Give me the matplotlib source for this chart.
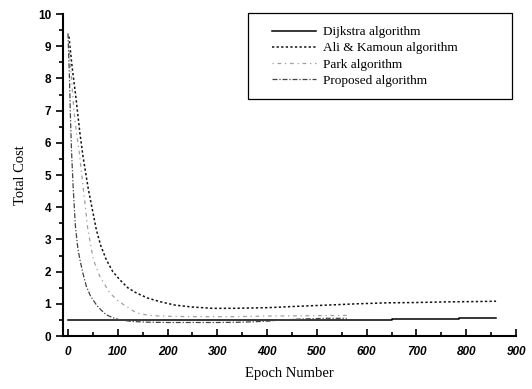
import matplotlib
matplotlib.use("Agg")
import matplotlib.pyplot as plt
from matplotlib.patches import Rectangle
from matplotlib.ticker import MultipleLocator

# data
dijkstra_x = [0, 650, 650, 785, 785, 860]
dijkstra_y = [0.50, 0.50, 0.52, 0.52, 0.55, 0.55]

ali_x = [2, 8, 16, 24, 30, 41, 50, 57, 66, 77, 90, 104, 120, 137, 160, 184,
         215, 250, 290, 330, 400, 457, 520, 580, 640, 700, 760, 820, 860]
ali_y = [9.3, 8.4, 7.4, 6.3, 5.6, 4.55, 3.85, 3.3, 2.8, 2.37, 2.0, 1.75, 1.5,
         1.34, 1.18, 1.07, 0.96, 0.90, 0.86, 0.86, 0.88, 0.92, 0.96, 1.0,
         1.03, 1.04, 1.06, 1.07, 1.08]

park_x = [2, 7, 12, 17, 22, 31, 40, 51, 64, 84, 100, 117, 137, 160, 184,
          250, 330, 400, 480, 560]
park_y = [9.0, 8.0, 7.0, 6.3, 5.8, 4.56, 3.3, 2.37, 1.85, 1.34, 1.1, 0.92,
          0.72, 0.65, 0.62, 0.60, 0.60, 0.62, 0.63, 0.64]

prop_x = [0, 3, 5, 7, 10.6, 15, 20, 25, 30, 37, 45, 57, 67, 77, 90, 104,
          130, 160, 200, 250, 300, 350, 400, 430, 470, 520, 560]
prop_y = [9.4, 8.0, 6.8, 5.8, 4.56, 3.4, 2.7, 2.3, 1.95, 1.54, 1.25, 0.97,
          0.80, 0.66, 0.57, 0.50, 0.45, 0.43, 0.42, 0.42, 0.42, 0.43, 0.46,
          0.50, 0.53, 0.55, 0.55]

serif = "Liberation Serif"
sans = "Liberation Sans"
W, H = 532, 389

fig = plt.figure(figsize=(W / 100, H / 100), dpi=100)
ax = fig.add_axes([0.1184, 0.1362, 0.8515, 0.8278])

ax.plot(dijkstra_x, dijkstra_y, "-", color="black", lw=1.1,
        label="Dijkstra algorithm")
ax.plot(ali_x, ali_y, linestyle=(0, (1.5, 1.5)), color="#111111", lw=1.1,
        label="Ali & Kamoun algorithm")
ax.plot(park_x, park_y, linestyle=(0, (1, 3, 3, 3)), color="#a0a0a0", lw=0.9,
        label="Park algorithm")
ax.plot(prop_x, prop_y, linestyle=(0, (4, 1.5, 1, 1.5)), color="#444444",
        lw=0.9, label="Proposed algorithm")

ax.set_xlim(-10, 900)
ax.set_ylim(0, 10)
ax.spines["top"].set_visible(False)
ax.spines["right"].set_visible(False)
ax.spines["left"].set_linewidth(1.5)
ax.spines["bottom"].set_linewidth(1.5)

ax.xaxis.set_major_locator(MultipleLocator(100))
ax.xaxis.set_minor_locator(MultipleLocator(50))
ax.yaxis.set_major_locator(MultipleLocator(1))
ax.yaxis.set_minor_locator(MultipleLocator(0.5))
ax.tick_params(axis="x", which="both", direction="in", width=1.2, pad=7)
ax.tick_params(axis="x", which="major", length=5)
ax.tick_params(axis="x", which="minor", length=3)
ax.tick_params(axis="y", which="both", direction="out", width=1.2)
ax.tick_params(axis="y", which="major", length=5)
ax.tick_params(axis="y", which="minor", length=3)

for lab in ax.get_xticklabels():
    lab.set_fontfamily(sans)
    lab.set_fontweight("bold")
    lab.set_fontstyle("italic")
    lab.set_fontsize(8.5)
for lab in ax.get_yticklabels():
    lab.set_fontfamily(sans)
    lab.set_fontweight("bold")
    lab.set_fontsize(8.5)

ax.set_xlabel("Epoch Number", fontfamily=serif, fontsize=10.5, labelpad=7)
ax.set_ylabel("Total Cost", fontfamily=serif, fontsize=10.5, labelpad=8)

# legend box drawn separately, it is much wider than the entries
fig.patches.append(Rectangle((248 / W, 1 - 99 / H), 264 / W, 86 / H,
                             transform=fig.transFigure, fill=False,
                             edgecolor="black", lw=0.9))
leg = ax.legend(loc="upper left", bbox_to_anchor=(272 / W, 1 - 26 / H),
                bbox_transform=fig.transFigure,
                prop={"family": serif, "size": 9.5}, frameon=False,
                handlelength=3.3, handletextpad=0.6, labelspacing=0.3,
                borderpad=0, borderaxespad=0)

fig.savefig("out.png", dpi=100)
